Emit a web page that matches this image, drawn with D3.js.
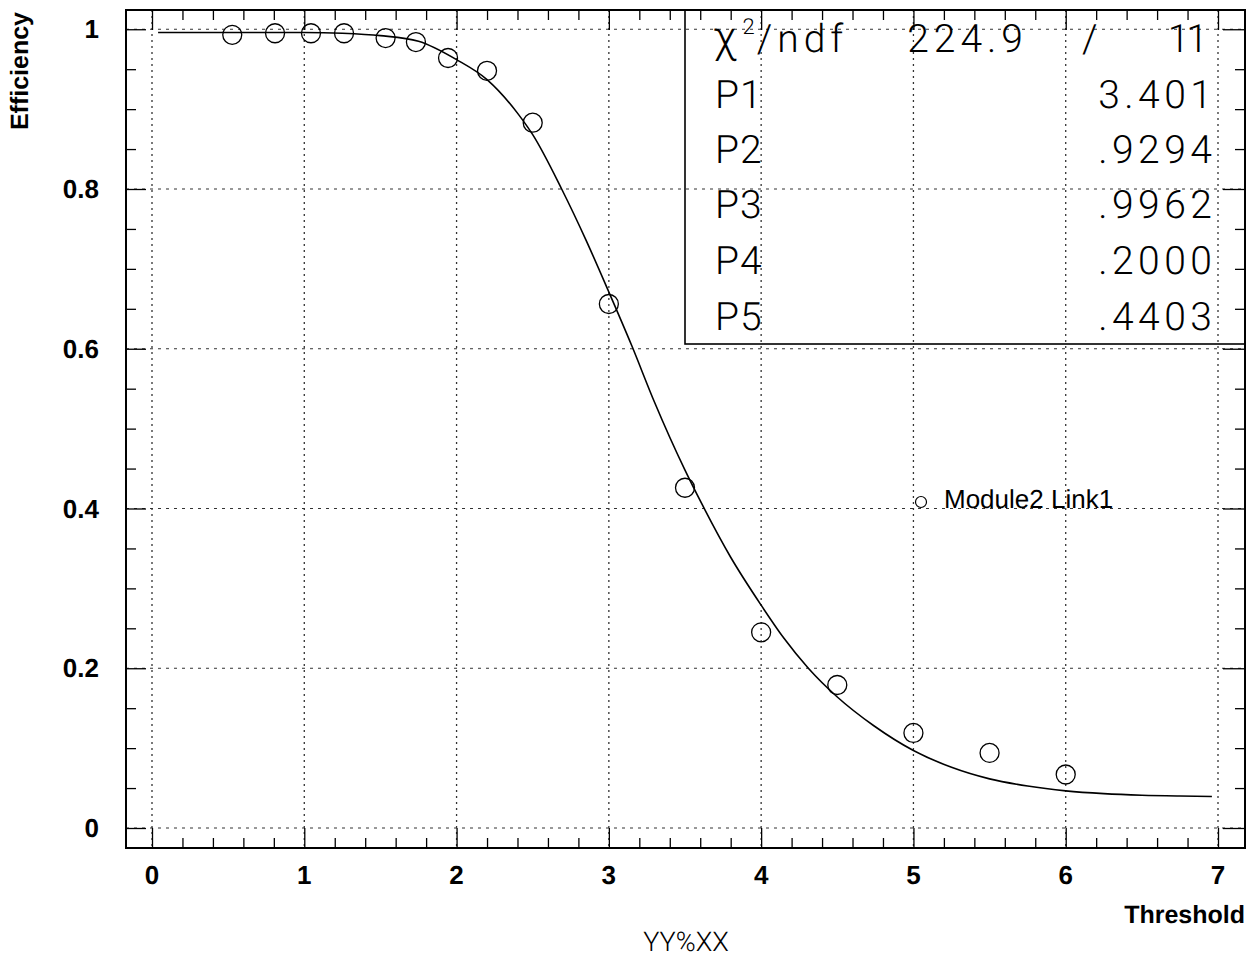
<!DOCTYPE html>
<html>
<head>
<meta charset="utf-8">
<script src="https://cdn.jsdelivr.net/npm/d3@7"></script>
<style>
  html, body { margin: 0; padding: 0; background: #fff; }
  svg { display: block; }
  text { text-rendering: geometricPrecision; }
</style>
</head>
<body>
<svg id="chart" width="1251" height="957"></svg>
<script>
// ---- data ----
const thresholds = [0.527, 0.808, 1.044, 1.261, 1.534, 1.733, 1.944, 2.2, 2.5, 3.0, 3.5, 4.0, 4.5, 5.0, 5.5, 6.0];
const efficiency = [0.993, 0.995, 0.995, 0.995, 0.989, 0.984, 0.964, 0.948, 0.883, 0.656, 0.426, 0.245, 0.179, 0.119, 0.094, 0.067];

const fitX = [0.04, 0.5, 1.0, 1.25, 1.5, 1.75, 2.0, 2.2, 2.4, 2.5, 2.69, 2.85, 3.0, 3.15, 3.3, 3.5, 3.61, 3.8, 4.0, 4.15, 4.31, 4.5, 4.74, 5.0, 5.25, 5.5, 5.75, 6.0, 6.25, 6.5, 6.75, 6.96];
const fitY = [0.996, 0.996, 0.996, 0.995, 0.992, 0.985, 0.962, 0.937, 0.895, 0.868, 0.80, 0.736, 0.671, 0.604, 0.533, 0.448, 0.406, 0.339, 0.279, 0.2375, 0.200, 0.164, 0.128, 0.097, 0.076, 0.0615, 0.0525, 0.0465, 0.043, 0.041, 0.040, 0.0395];

const xTickLabels = ["0", "1", "2", "3", "4", "5", "6", "7"];
const yTickLabels = ["0", "0.2", "0.4", "0.6", "0.8", "1"];

const statNames = ["P1", "P2", "P3", "P4", "P5"];
const statValues = ["3.401", ".9294", ".9962", ".2000", ".4403"];
const chi2Value = "224.9";
const ndfValue = "11";
const legendLabel = "Module2 Link1";
const xTitle = "Threshold";
const yTitle = "Efficiency";
const footer = "YY%XX";

// ---- layout ----
const frame = { left: 126, right: 1245, top: 10, bottom: 848 };
const svg = d3.select("#chart");

const x = d3.scaleLinear().domain([0, 7]).range([152, 1218]);
const y = d3.scaleLinear().domain([0, 1]).range([828, 29.25]);

const boldFont = "'Liberation Sans', Arial, Helvetica, sans-serif";
const thinFont = "Roboto, Inter, 'Noto Sans', sans-serif";

// grid
const gridColor = "#333";
const g = svg.append("g");
g.selectAll("line.vgrid").data(d3.range(0, 8)).enter().append("line")
  .attr("x1", d => x(d)).attr("x2", d => x(d))
  .attr("y1", frame.top).attr("y2", frame.bottom)
  .attr("stroke", gridColor).attr("stroke-width", 1.3)
  .attr("stroke-dasharray", "2,4");
g.selectAll("line.hgrid").data(d3.range(0, 6).map(i => i * 0.2)).enter().append("line")
  .attr("x1", frame.left).attr("x2", frame.right)
  .attr("y1", d => y(d)).attr("y2", d => y(d))
  .attr("stroke", gridColor).attr("stroke-width", 1)
  .attr("stroke-dasharray", "3,5");

// axes via d3 (ticks drawn inward)
const xMajor = d3.range(0, 8);
const xMinor = d3.range(0, 36).map(i => i * 0.2).filter(v => Math.abs(v - Math.round(v)) > 1e-6);
const yMajor = d3.range(0, 6).map(i => i * 0.2);
const yMinor = d3.range(0, 21).map(i => i * 0.05).filter(v => Math.abs(v * 5 - Math.round(v * 5)) > 1e-6);

function tickAxis(axisFn, scale, values, size, transform) {
  const a = svg.append("g").attr("transform", transform)
    .call(axisFn(scale).tickValues(values).tickSize(size).tickFormat(""));
  a.select(".domain").remove();
  a.selectAll(".tick line").attr("stroke", "#000").attr("stroke-width", 1.3);
  return a;
}
// bottom (ticks upward)
tickAxis(d3.axisTop, x, xMajor, 20, `translate(0,${frame.bottom})`);
tickAxis(d3.axisTop, x, xMinor, 10, `translate(0,${frame.bottom})`);
// top (ticks downward)
tickAxis(d3.axisBottom, x, xMajor, 20, `translate(0,${frame.top})`);
tickAxis(d3.axisBottom, x, xMinor, 10, `translate(0,${frame.top})`);
// left (ticks to the right)
tickAxis(d3.axisRight, y, yMajor, 20, `translate(${frame.left},0)`);
tickAxis(d3.axisRight, y, yMinor, 10, `translate(${frame.left},0)`);
// right (ticks to the left)
tickAxis(d3.axisLeft, y, yMajor, 22, `translate(${frame.right},0)`);
tickAxis(d3.axisLeft, y, yMinor, 10, `translate(${frame.right},0)`);

// tick labels
svg.append("g").selectAll("text").data(xMajor).enter().append("text")
  .attr("x", d => x(d)).attr("y", 884)
  .attr("text-anchor", "middle")
  .attr("font-family", boldFont).attr("font-weight", "bold").attr("font-size", 26)
  .text((d, i) => xTickLabels[i]);
svg.append("g").selectAll("text").data(yMajor).enter().append("text")
  .attr("x", 99).attr("y", d => y(d) + 9)
  .attr("text-anchor", "end")
  .attr("font-family", boldFont).attr("font-weight", "bold").attr("font-size", 26)
  .text((d, i) => yTickLabels[i]);

// frame
svg.append("rect")
  .attr("x", frame.left).attr("y", frame.top)
  .attr("width", frame.right - frame.left).attr("height", frame.bottom - frame.top)
  .attr("fill", "none").attr("stroke", "#000").attr("stroke-width", 2);

// axis titles
svg.append("text").attr("x", 1245).attr("y", 923).attr("text-anchor", "end")
  .attr("font-family", boldFont).attr("font-weight", "bold").attr("font-size", 25)
  .text(xTitle);
svg.append("text").attr("transform", "translate(28,12) rotate(-90)")
  .attr("text-anchor", "end")
  .attr("font-family", boldFont).attr("font-weight", "bold").attr("font-size", 25)
  .text(yTitle);
svg.append("text").attr("x", 686).attr("y", 951).attr("text-anchor", "middle")
  .attr("font-family", thinFont).attr("font-weight", 300).attr("font-size", 27)
  .attr("fill", "#000")
  .text(footer);

// data points
svg.append("g").selectAll("circle").data(thresholds).enter().append("circle")
  .attr("cx", d => x(d)).attr("cy", (d, i) => y(efficiency[i]))
  .attr("r", 9.5).attr("fill", "none").attr("stroke", "#000").attr("stroke-width", 1.3);

// fit curve
const line = d3.line().x(d => x(d[0])).y(d => y(d[1])).curve(d3.curveMonotoneX);
svg.append("path").datum(fitX.map((v, i) => [v, fitY[i]]))
  .attr("d", line).attr("fill", "none").attr("stroke", "#000").attr("stroke-width", 1.6);

// stats box
svg.append("rect").attr("x", 685).attr("y", frame.top)
  .attr("width", frame.right - 685).attr("height", 344 - frame.top)
  .attr("fill", "none").attr("stroke", "#000").attr("stroke-width", 1.6);

const statFont = { family: thinFont, weight: 300, size: 39 };
function statText(tx, ty, str, anchor, spacing) {
  const ls = spacing || 0;
  return svg.append("text").attr("x", anchor === "end" ? tx + ls : tx).attr("y", ty)
    .attr("text-anchor", anchor || "start")
    .attr("letter-spacing", ls)
    .attr("font-family", statFont.family).attr("font-weight", statFont.weight)
    .attr("font-size", statFont.size).attr("fill", "#000").text(str);
}
const rowY = [52, 108, 163, 218, 274, 330];
// chi2 / ndf label as one text with a superscript
const chi = svg.append("text").attr("x", 713).attr("y", rowY[0])
  .attr("font-family", statFont.family).attr("font-weight", statFont.weight)
  .attr("font-size", statFont.size).attr("fill", "#000");
chi.append("tspan").attr("font-size", 44).text("χ");
chi.append("tspan").attr("dy", -18).attr("dx", 6).attr("font-size", 22).text("2");
chi.append("tspan").attr("dy", 18).attr("dx", 2).attr("letter-spacing", 5).text("/ndf");
statText(1023, rowY[0], chi2Value, "end", 5);
statText(1082, rowY[0], "/");
statText(1208, rowY[0], ndfValue, "end", -3);
statNames.forEach((n, i) => {
  statText(715, rowY[i + 1], n, "start", 1);
  statText(1212, rowY[i + 1], statValues[i], "end", 4.5);
});

// legend
svg.append("circle").attr("cx", 921).attr("cy", 502).attr("r", 5.5)
  .attr("fill", "none").attr("stroke", "#000").attr("stroke-width", 1.2);
svg.append("text").attr("x", 944).attr("y", 508)
  .attr("font-family", boldFont).attr("font-size", 26).text(legendLabel);
</script>
</body>
</html>
